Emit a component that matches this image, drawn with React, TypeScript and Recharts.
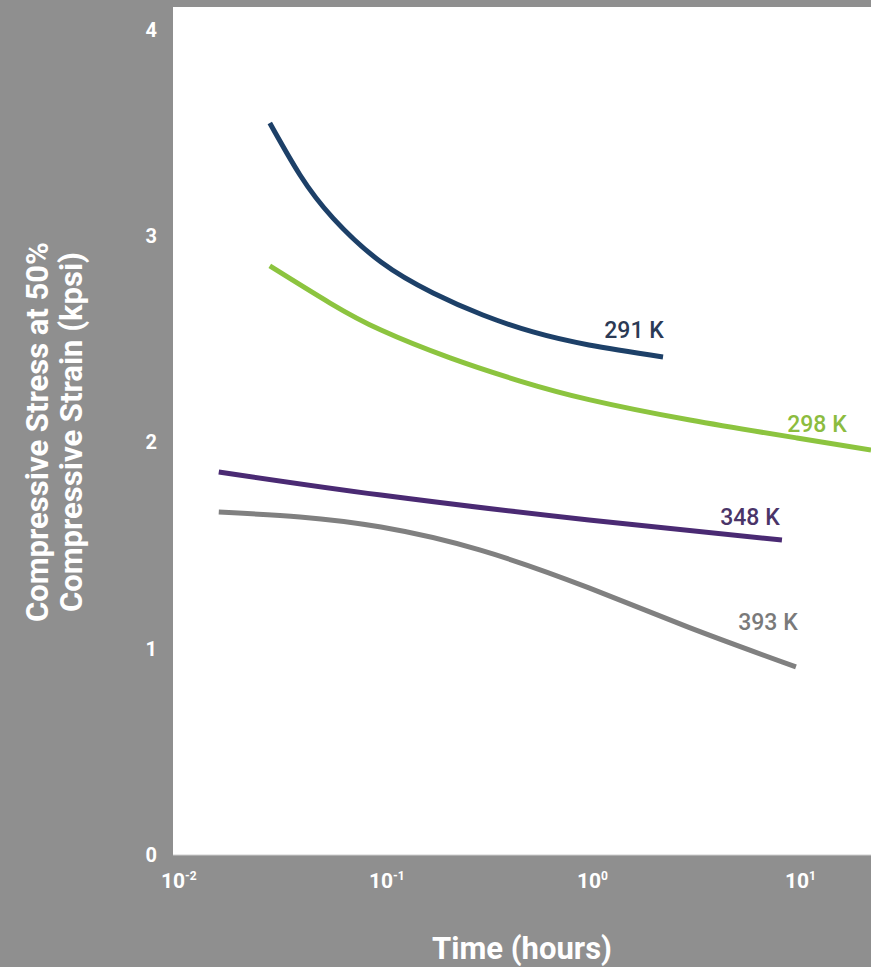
import { LineChart, Line, XAxis, YAxis, CartesianGrid } from 'recharts'

// time in hours (log axis), stress in kpsi
const time291 = [0.0292, 0.0408, 0.0588, 0.1, 0.178, 0.309, 0.538, 1.0, 2.27]
const stress291 = [3.549, 3.297, 3.088, 2.875, 2.725, 2.618, 2.536, 2.473, 2.415]

const time298 = [0.0292, 0.0569, 0.1, 0.215, 0.466, 1.0, 3.06, 10, 22.7]
const stress298 = [2.856, 2.676, 2.545, 2.41, 2.298, 2.208, 2.109, 2.022, 1.964]

const time348 = [0.0166, 0.1, 1.0, 8.47]
const stress348 = [1.857, 1.745, 1.624, 1.527]

const time393 = [0.0166, 0.0408, 0.1, 0.298, 1.0, 3.0, 9.89]
const stress393 = [1.663, 1.639, 1.59, 1.479, 1.295, 1.105, 0.912]

const xTicks = [0.01, 0.1, 1, 10]
const xTickExponents = ['-2', '-1', '0', '1']
const yTicks = [0, 1, 2, 3, 4]

const zip = (ts: number[], vs: number[]) => ts.map((t, i) => ({ t, v: vs[i] }))

const s291 = zip(time291, stress291)
const s298 = zip(time298, stress298)
const s348 = zip(time348, stress348)
const s393 = zip(time393, stress393)

const FONT = 'Roboto, "Noto Sans", sans-serif'

const XTick = (props: any) => {
  const { x, y, payload } = props
  const i = xTicks.indexOf(payload.value)
  return (
    <g>
      <text x={x} y={y + 25} textAnchor="middle" fill="#fff" fontFamily={FONT} fontWeight={700} fontSize={21}>
        10
      </text>
      <text x={x + 12} y={y + 17} textAnchor="start" fill="#fff" fontFamily={FONT} fontWeight={700} fontSize={12}>
        {xTickExponents[i]}
      </text>
    </g>
  )
}

const YTick = (props: any) => {
  const { x, y, payload } = props
  return (
    <text x={x} y={y} dy={7} textAnchor="end" fill="#fff" fontFamily={FONT} fontWeight={700} fontSize={20}>
      {payload.value}
    </text>
  )
}

const YTitle = () => (
  <text
    transform="translate(0, 432) rotate(-90)"
    textAnchor="middle"
    fill="#fff"
    fontFamily={FONT}
    fontWeight={700}
    fontSize={31}
  >
    <tspan x={0} y={48}>Compressive Stress at 50%</tspan>
    <tspan x={0} y={82}>Compressive Strain (kpsi)</tspan>
  </text>
)

const seriesLabel = (text: string, color: string, at: number, dx: number, dy: number) =>
  (props: any) => {
    if (props.index !== at) return <g />
    return (
      <text
        x={props.x + dx}
        y={props.y + dy}
        textAnchor="middle"
        fill={color}
        fontFamily={FONT}
        fontWeight={500}
        fontSize={23}
      >
        {text}
      </text>
    )
  }

export default function App() {
  return (
    <div style={{ position: 'fixed', left: 0, top: 0, width: 871, height: 967, background: '#8f8f8f' }}>
      <LineChart width={871} height={967} margin={{ top: 7, right: 0, bottom: 0, left: 0 }}>
        <CartesianGrid fill="#ffffff" horizontal={false} vertical={false} />
        <XAxis
          dataKey="t"
          type="number"
          scale="log"
          domain={[0.01, 22.7]}
          allowDataOverflow
          ticks={xTicks}
          tick={<XTick />}
          tickLine={false}
          axisLine={{ stroke: '#cfcfcf' }}
          height={112}
          label={{
            value: 'Time (hours)',
            position: 'insideBottom',
            offset: 8,
            fill: '#fff',
            fontSize: 31,
            fontWeight: 700,
            fontFamily: FONT,
          }}
        />
        <YAxis
          type="number"
          domain={[0, 4.1115]}
          ticks={yTicks}
          tick={<YTick />}
          tickLine={false}
          axisLine={false}
          tickSize={0}
          tickMargin={16}
          width={173}
          label={<YTitle />}
        />
        <Line
          data={s291}
          dataKey="v"
          type="natural"
          stroke="#1d4068"
          strokeWidth={5}
          dot={false}
          isAnimationActive={false}
          label={seriesLabel('291 K', '#2b3a55', 8, -29, -19)}
        />
        <Line
          data={s298}
          dataKey="v"
          type="natural"
          stroke="#8cc43f"
          strokeWidth={5}
          dot={false}
          isAnimationActive={false}
          label={seriesLabel('298 K', '#8cbc3f', 7, 20, -6)}
        />
        <Line
          data={s348}
          dataKey="v"
          type="natural"
          stroke="#4a2a73"
          strokeWidth={5}
          dot={false}
          isAnimationActive={false}
          label={seriesLabel('348 K', '#4a3468', 3, -32, -15)}
        />
        <Line
          data={s393}
          dataKey="v"
          type="natural"
          stroke="#808080"
          strokeWidth={5}
          dot={false}
          isAnimationActive={false}
          label={seriesLabel('393 K', '#7a7a7a', 6, -28, -37)}
        />
      </LineChart>
    </div>
  )
}
